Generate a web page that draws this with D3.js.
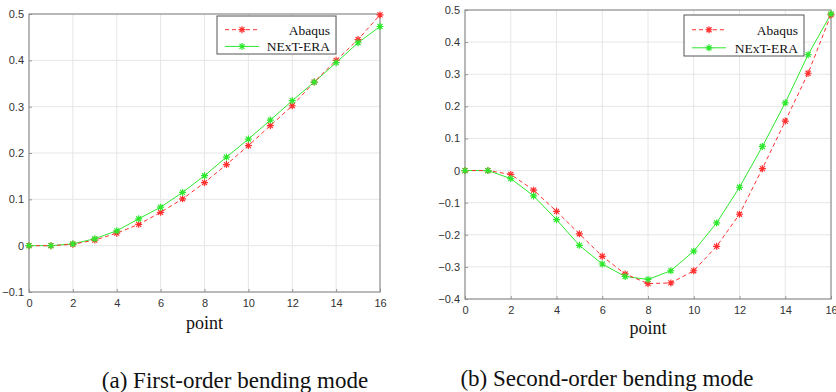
<!DOCTYPE html>
<head>
    <meta charset="utf-8">
    <script src="https://d3js.org/d3.v7.min.js"></script>
    <style>
      body { margin: 0; background: #fff; }
      .tick text { font-family: "Liberation Sans", Arial, sans-serif; font-size: 11px; fill: #333; }
    </style>
</head>

<body>
    <div id="chart"></div>
</body>

<script>

  // point index along the beam
  const points = d3.range(0, 17);

  // (a) first-order bending mode
  const abaqus1 = [0, 0, 0.003, 0.012, 0.027, 0.046, 0.072, 0.101, 0.136, 0.175, 0.216, 0.259, 0.302, 0.353, 0.400, 0.445, 0.498];
  const nextEra1 = [0, 0, 0.004, 0.015, 0.032, 0.058, 0.083, 0.115, 0.151, 0.191, 0.230, 0.271, 0.313, 0.353, 0.395, 0.438, 0.473];

  // (b) second-order bending mode
  const abaqus2 = [0, 0, -0.012, -0.061, -0.127, -0.197, -0.267, -0.322, -0.352, -0.350, -0.312, -0.236, -0.136, 0.006, 0.154, 0.303, 0.485];
  const nextEra2 = [0, 0, -0.025, -0.079, -0.153, -0.233, -0.291, -0.330, -0.339, -0.312, -0.251, -0.163, -0.052, 0.075, 0.211, 0.361, 0.488];

  const xTicks = [0, 2, 4, 6, 8, 10, 12, 14, 16];
  const yTicks1 = [-0.1, 0, 0.1, 0.2, 0.3, 0.4, 0.5];
  const yTicks2 = [-0.4, -0.3, -0.2, -0.1, 0, 0.1, 0.2, 0.3, 0.4, 0.5];

  const seriesNames = ["Abaqus", "NExT-ERA"];
  const captions = ["(a) First-order bending mode", "(b) Second-order bending mode"];

  const red = "#ff3030", green = "#2ee82e";

  const svg = d3.select("#chart").append("svg")
    .attr("width", 836)
    .attr("height", 392);

  // one panel per mode
  const panels = [
    {left: 29, right: 380, top: 14, bottom: 292, yDomain: [-0.1, 0.5], yTicks: yTicks1,
     a: abaqus1, b: nextEra1, legend: {x: 217, y: 16, w: 119, h: 38},
     pointY: 329, capX: 235, capY: 388, caption: captions[0]},
    {left: 465, right: 831, top: 10, bottom: 299, yDomain: [-0.4, 0.5], yTicks: yTicks2,
     a: abaqus2, b: nextEra2, legend: {x: 684, y: 15, w: 120, h: 41},
     pointY: 334, capX: 607, capY: 386, caption: captions[1]}
  ];

  // asterisk marker
  function star(g, cx, cy, col) {
    const r = 3.5, d = 2.5;
    const p = `M${cx - r},${cy}L${cx + r},${cy}M${cx},${cy - r}L${cx},${cy + r}` +
              `M${cx - d},${cy - d}L${cx + d},${cy + d}M${cx - d},${cy + d}L${cx + d},${cy - d}`;
    g.append("path").attr("d", p).attr("stroke", col).attr("stroke-width", 1.2).attr("fill", "none");
  }

  panels.forEach(p => {
    const g = svg.append("g");

    const x = d3.scaleLinear().domain([0, 16]).range([p.left, p.right]);
    const y = d3.scaleLinear().domain(p.yDomain).range([p.bottom, p.top]);

    // grid
    g.append("g").selectAll("line").data(xTicks.slice(1, -1)).join("line")
      .attr("x1", d => x(d)).attr("x2", d => x(d))
      .attr("y1", p.top).attr("y2", p.bottom)
      .attr("stroke", "#e6e6e6").attr("stroke-width", 1);
    g.append("g").selectAll("line").data(p.yTicks.slice(1, -1)).join("line")
      .attr("y1", d => y(d)).attr("y2", d => y(d))
      .attr("x1", p.left).attr("x2", p.right)
      .attr("stroke", "#e6e6e6").attr("stroke-width", 1);

    // axes, ticks pointing inward
    const xa = g.append("g").attr("transform", `translate(0,${p.bottom})`)
      .call(d3.axisBottom(x).tickValues(xTicks).tickSizeInner(-3).tickSizeOuter(0).tickPadding(7));
    const ya = g.append("g").attr("transform", `translate(${p.left},0)`)
      .call(d3.axisLeft(y).tickValues(p.yTicks).tickFormat(d => d3.format("")(+d.toFixed(1))).tickSizeInner(-3).tickSizeOuter(0).tickPadding(5));
    [xa, ya].forEach(a => {
      a.select(".domain").remove();
      a.selectAll(".tick line").attr("stroke", "#999");
    });

    // box
    g.append("rect")
      .attr("x", p.left).attr("y", p.top)
      .attr("width", p.right - p.left).attr("height", p.bottom - p.top)
      .attr("fill", "none").attr("stroke", "#8a8a8a").attr("stroke-width", 1.2);

    const line = d3.line().x((d, i) => x(points[i])).y(d => y(d));

    g.append("path").datum(p.b).attr("d", line)
      .attr("fill", "none").attr("stroke", green).attr("stroke-width", 1);
    g.append("path").datum(p.a).attr("d", line)
      .attr("fill", "none").attr("stroke", red).attr("stroke-width", 1).attr("stroke-dasharray", "4,3");

    p.a.forEach((v, i) => star(g, x(points[i]), y(v), red));
    p.b.forEach((v, i) => star(g, x(points[i]), y(v), green));

    // legend
    const L = p.legend;
    const lg = g.append("g");
    lg.append("rect").attr("x", L.x).attr("y", L.y).attr("width", L.w).attr("height", L.h)
      .attr("fill", "#fff").attr("stroke", "#555").attr("stroke-width", 1);
    [[seriesNames[0], red, "4,3"], [seriesNames[1], green, null]].forEach((s, k) => {
      const yy = L.y + L.h * (k === 0 ? 0.36 : 0.8);
      lg.append("line").attr("x1", L.x + 8).attr("x2", L.x + 42).attr("y1", yy).attr("y2", yy)
        .attr("stroke", s[1]).attr("stroke-width", 1).attr("stroke-dasharray", s[2]);
      star(lg, L.x + 25, yy, s[1]);
      lg.append("text").attr("x", L.x + L.w - 6).attr("y", yy + 5)
        .attr("text-anchor", "end")
        .style("font-family", "'Liberation Serif', 'Times New Roman', serif")
        .style("font-size", "13.5px").attr("fill", "#111").text(s[0]);
    });

    // axis title and caption
    g.append("text").attr("x", x(8)).attr("y", p.pointY).attr("text-anchor", "middle")
      .style("font-family", "'Liberation Serif', 'Times New Roman', serif")
      .style("font-size", "18px").attr("fill", "#111").text("point");
    g.append("text").attr("x", p.capX).attr("y", p.capY).attr("text-anchor", "middle")
      .style("font-family", "'Liberation Serif', 'Times New Roman', serif")
      .style("font-size", "23px").attr("fill", "#111").text(p.caption);
  });

</script>
